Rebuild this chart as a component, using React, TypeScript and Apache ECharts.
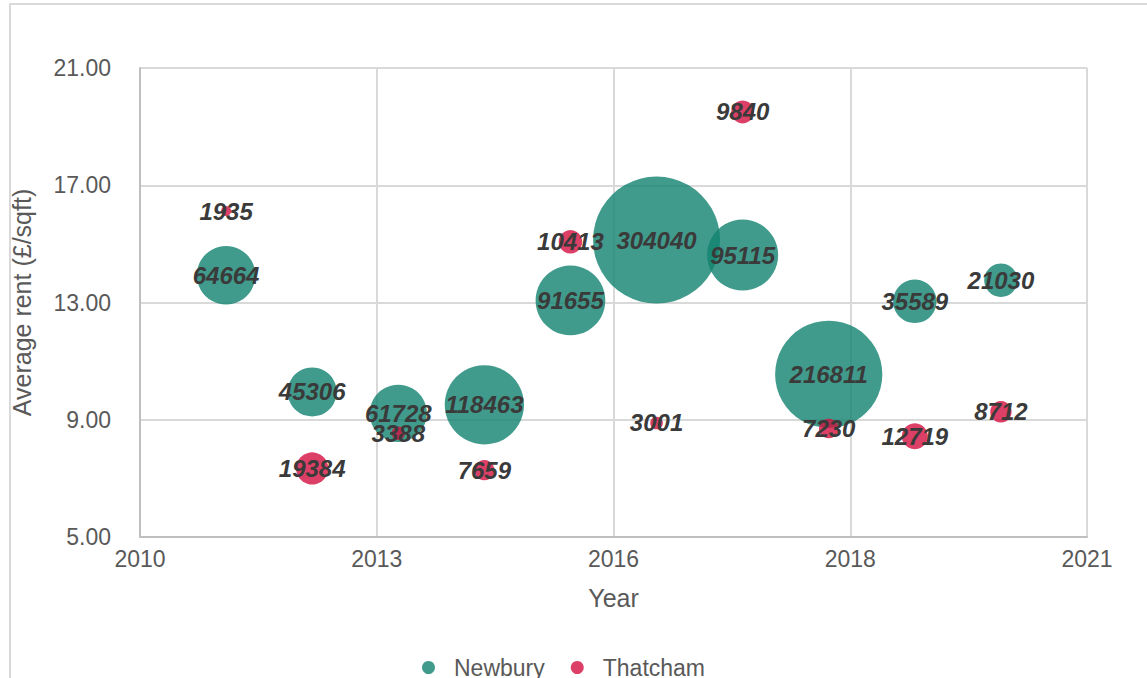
import React, { useEffect, useRef } from "react";
import * as echarts from "echarts";

const years = [2011, 2012, 2013, 2014, 2015, 2016, 2017, 2018, 2019, 2020];
const newburyRent = [13.93, 9.95, 9.22, 9.51, 13.07, 15.13, 14.62, 10.55, 13.04, 13.76];
const newburyArea = [64664, 45306, 61728, 118463, 91655, 304040, 95115, 216811, 35589, 21030];
const thatchamRent = [16.12, 7.34, 8.54, 7.28, 15.07, 8.89, 19.5, 8.7, 8.44, 9.27];
const thatchamArea = [1935, 19384, 3388, 7659, 10413, 3001, 9840, 7230, 12719, 8712];

const yTicks = { min: 5, max: 21, interval: 4 };
const xTicks = { min: 2010, max: 2021, interval: 2.75 };

const maxArea = 304040;
const maxDiameter = 127;
const FONT = "Liberation Sans, Arial, sans-serif";

export default function App() {
  const ref = useRef<HTMLDivElement>(null);
  useEffect(() => {
    if (!ref.current) return;
    const chart = echarts.init(ref.current, undefined, { renderer: "svg" });
    const sizeFn = (v: number[]) => maxDiameter * Math.sqrt(v[2] / maxArea);
    const label = {
      show: true,
      position: "inside",
      formatter: (p: any) => String(p.value[2]),
      fontFamily: FONT,
      fontSize: 24,
      fontWeight: "bold",
      fontStyle: "italic",
      color: "#3a3a3a",
    };
    chart.setOption({
      animation: false,
      textStyle: { fontFamily: FONT },
      graphic: [
        {
          type: "rect",
          shape: { x: 10, y: 4, width: 1600, height: 1000 },
          style: { fill: "none", stroke: "#d9d9d9", lineWidth: 2 },
          silent: true,
        },
      ],
      grid: { left: 140, top: 68, right: 60, bottom: 141 },
      xAxis: {
        type: "value",
        min: xTicks.min,
        max: xTicks.max,
        interval: xTicks.interval,
        name: "Year",
        nameLocation: "middle",
        nameGap: 48,
        nameTextStyle: { fontSize: 25, color: "#595959", fontFamily: FONT },
        axisLine: { show: true, lineStyle: { color: "#bfbfbf", width: 2 } },
        axisTick: { show: false },
        axisLabel: {
          fontSize: 23,
          color: "#595959",
          margin: 10,
          fontFamily: FONT,
          formatter: (v: number) => String(Math.round(v)),
        },
        splitLine: { show: true, lineStyle: { color: "#d9d9d9", width: 2 } },
      },
      yAxis: {
        type: "value",
        min: yTicks.min,
        max: yTicks.max,
        interval: yTicks.interval,
        name: "Average rent (£/sqft)",
        nameLocation: "middle",
        nameGap: 106,
        nameTextStyle: { fontSize: 25, color: "#595959", fontFamily: FONT },
        axisLine: { show: true, lineStyle: { color: "#bfbfbf", width: 2 } },
        axisTick: { show: false },
        axisLabel: {
          fontSize: 23,
          color: "#595959",
          margin: 29,
          fontFamily: FONT,
          formatter: (v: number) => v.toFixed(2),
        },
        splitLine: { show: true, lineStyle: { color: "#d9d9d9", width: 2 } },
      },
      legend: {
        left: 417,
        top: 651,
        itemWidth: 13,
        itemHeight: 13,
        itemGap: 26,
        icon: "circle",
        textStyle: { fontSize: 23, color: "#595959", fontFamily: FONT, padding: [0, 0, 0, 14] },
        data: ["Newbury", "Thatcham"],
      },
      series: [
        {
          name: "Newbury",
          type: "scatter",
          data: years.map((y, i) => [y, newburyRent[i], newburyArea[i]]),
          symbolSize: sizeFn,
          itemStyle: { color: "rgba(18,130,111,0.8)", opacity: 1 },
          label,
        },
        {
          name: "Thatcham",
          type: "scatter",
          data: years.map((y, i) => [y, thatchamRent[i], thatchamArea[i]]),
          symbolSize: sizeFn,
          itemStyle: { color: "rgba(212,16,64,0.8)", opacity: 1 },
          label,
        },
      ],
    });
    return () => chart.dispose();
  }, []);
  return (
    <div
      ref={ref}
      style={{ position: "fixed", left: 0, top: 0, width: 1147, height: 678, background: "#fff" }}
    />
  );
}
